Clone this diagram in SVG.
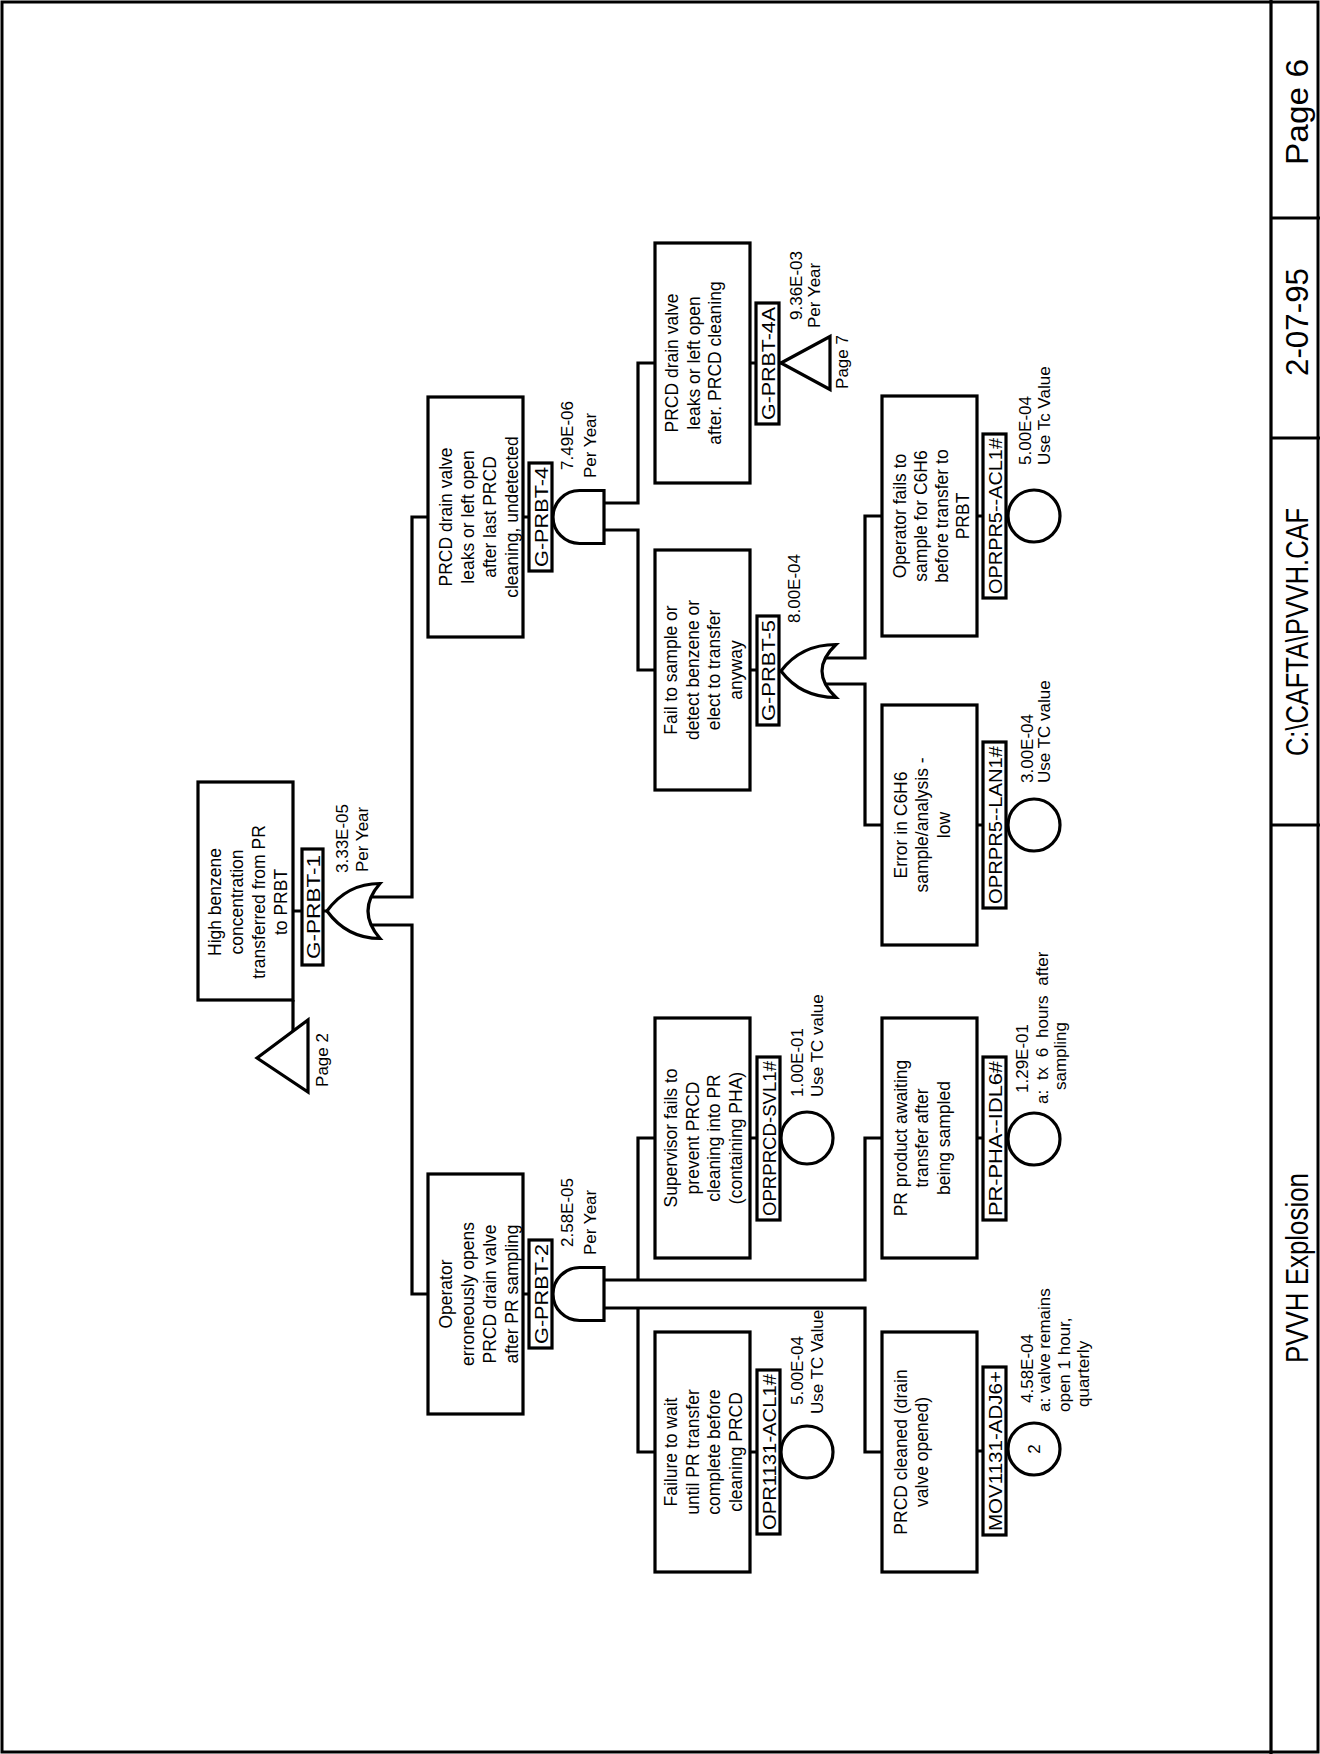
<svg xmlns="http://www.w3.org/2000/svg" width="1320" height="1754" viewBox="0 0 1320 1754">
<style>
.bg{fill:#fff}
.box{fill:#fff;stroke:#000;stroke-width:3.2}
.ln{fill:none;stroke:#000;stroke-width:3.2}
.g{fill:#fff;stroke:#000;stroke-width:3.2;stroke-linejoin:miter}
.t{font-family:"Liberation Sans",Arial,Helvetica,sans-serif;font-size:17px;fill:#000}
.d{font-size:17.5px}
.m{text-anchor:middle}
.lab{font-size:19px}
.ttl{font-size:32px}
</style>
<rect class="bg" x="0" y="0" width="1320" height="1754"/>
<g id="frame">
<rect x="2" y="2" width="1316" height="1750" fill="none" stroke="#000" stroke-width="3"/>
<path class="ln" d="M1271,0 V1754 M1271,218 H1320 M1271,438 H1320 M1271,825 H1320"/>
<text class="t m ttl" transform="translate(1308,112) rotate(-90)" textLength="106" lengthAdjust="spacingAndGlyphs">Page 6</text>
<text class="t m ttl" transform="translate(1308,322) rotate(-90)" textLength="108" lengthAdjust="spacingAndGlyphs">2-07-95</text>
<text class="t m ttl" transform="translate(1308,632) rotate(-90)" textLength="248" lengthAdjust="spacingAndGlyphs">C:\CAFTA\PVVH.CAF</text>
<text class="t m ttl" transform="translate(1308,1268) rotate(-90)" textLength="190" lengthAdjust="spacingAndGlyphs">PVVH  Explosion</text>
</g>
<g id="connectors">
<path class="ln" d="M293,1000 V1031 M293,911 H302 M323,911 H327
M372,897 H412 V517 H428 M372,925 H412 V1294 H428
M523,517 H529 M552,517 H554 M604,503 H638 V363 H655 M604,530 H638 V670 H655
M750,363 H756 M779,363 H781 M750,670 H757 M779,671 H781
M825,658 H865 V516 H882 M825,684 H865 V825 H882
M977,516 H983 M1006,516 H1008 M977,825 H983 M1006,825 H1008
M523,1294 H529 M552,1294 H554
M604,1280 H865 V1138 H882 M604,1308 H865 V1452 H882
M638,1280 V1138 H655 M638,1308 V1452 H655
M750,1138 H757 M780,1138 H781 M750,1452 H757 M780,1452 H781
M977,1138 H983 M1006,1138 H1008 M977,1451 H983 M1006,1451 H1008"/>
</g>
<g id="G-PRBT-1">
<rect class="box" x="198" y="782" width="95" height="218"/>
<text class="t d m" transform="translate(221,902) rotate(-90)">High benzene</text>
<text class="t d m" transform="translate(243,902) rotate(-90)">concentration</text>
<text class="t d m" transform="translate(265,902) rotate(-90)">transferred from PR</text>
<text class="t d m" transform="translate(287,902) rotate(-90)">to PRBT</text>
<rect class="box" x="302" y="849" width="21" height="116"/>
<text class="t m lab" transform="translate(320,907) rotate(-90)" textLength="104" lengthAdjust="spacingAndGlyphs">G-PRBT-1</text>
<path class="g" d="M380,883.5 Q347,883.5 327,911 Q347,938.5 380,938.5 Q356,911 380,883.5 Z"/>
<text class="t" transform="translate(348,873) rotate(-90)">3.33E-05</text>
<text class="t" transform="translate(368,872) rotate(-90)">Per Year</text>
<path class="g" d="M257,1058 L308,1020 L308,1092 Z"/>
<text class="t m" transform="translate(328,1060) rotate(-90)">Page 2</text>
</g>
<g id="G-PRBT-2">
<rect class="box" x="428" y="1174" width="95" height="240"/>
<text class="t d m" transform="translate(452,1294) rotate(-90)">Operator</text>
<text class="t d m" transform="translate(474,1294) rotate(-90)">erroneously opens</text>
<text class="t d m" transform="translate(496,1294) rotate(-90)">PRCD drain valve</text>
<text class="t d m" transform="translate(518,1294) rotate(-90)">after PR sampling</text>
<rect class="box" x="529" y="1240" width="23" height="108"/>
<text class="t m lab" transform="translate(548,1294) rotate(-90)" textLength="100" lengthAdjust="spacingAndGlyphs">G-PRBT-2</text>
<path class="g" d="M604,1267.5 H579.5 A26.5,26.5 0 0 0 579.5,1320.5 H604 Z"/>
<text class="t" transform="translate(573,1247) rotate(-90)">2.58E-05</text>
<text class="t" transform="translate(596,1255) rotate(-90)">Per Year</text>
</g>
<g id="G-PRBT-4">
<rect class="box" x="428" y="397" width="95" height="240"/>
<text class="t d m" transform="translate(452,517) rotate(-90)">PRCD drain valve</text>
<text class="t d m" transform="translate(474,517) rotate(-90)">leaks or left open</text>
<text class="t d m" transform="translate(496,517) rotate(-90)">after last PRCD</text>
<text class="t d m" transform="translate(518,517) rotate(-90)">cleaning, undetected</text>
<rect class="box" x="529" y="463" width="23" height="108"/>
<text class="t m lab" transform="translate(548,517) rotate(-90)" textLength="100" lengthAdjust="spacingAndGlyphs">G-PRBT-4</text>
<path class="g" d="M604,490.5 H579.5 A26.5,26.5 0 0 0 579.5,543.5 H604 Z"/>
<text class="t" transform="translate(573,470) rotate(-90)">7.49E-06</text>
<text class="t" transform="translate(596,478) rotate(-90)">Per Year</text>
</g>
<g id="G-PRBT-4A">
<rect class="box" x="655" y="243" width="95" height="240"/>
<text class="t d m" transform="translate(678,363) rotate(-90)">PRCD drain valve</text>
<text class="t d m" transform="translate(699.5,363) rotate(-90)">leaks or left open</text>
<text class="t d m" transform="translate(721,363) rotate(-90)">after. PRCD cleaning</text>
<rect class="box" x="756" y="303" width="23" height="121"/>
<text class="t m lab" transform="translate(775,363.5) rotate(-90)" textLength="113" lengthAdjust="spacingAndGlyphs">G-PRBT-4A</text>
<path class="g" d="M781,363 L830,336.5 L830,389.5 Z"/>
<text class="t" transform="translate(802,320) rotate(-90)">9.36E-03</text>
<text class="t" transform="translate(820,328) rotate(-90)">Per Year</text>
<text class="t m" transform="translate(848,362) rotate(-90)">Page 7</text>
</g>
<g id="G-PRBT-5">
<rect class="box" x="655" y="550" width="95" height="240"/>
<text class="t d m" transform="translate(677,670) rotate(-90)">Fail to sample or</text>
<text class="t d m" transform="translate(698.5,670) rotate(-90)">detect benzene or</text>
<text class="t d m" transform="translate(720,670) rotate(-90)">elect to transfer</text>
<text class="t d m" transform="translate(741.5,670) rotate(-90)">anyway</text>
<rect class="box" x="757" y="616" width="22" height="109"/>
<text class="t m lab" transform="translate(775,670.5) rotate(-90)" textLength="101" lengthAdjust="spacingAndGlyphs">G-PRBT-5</text>
<path class="g" d="M836,644.5 Q801,644.5 781,671 Q801,697.5 836,697.5 Q808,671 836,644.5 Z"/>
<text class="t" transform="translate(800,623) rotate(-90)">8.00E-04</text>
</g>
<g id="OPRPRCD-SVL1">
<rect class="box" x="655" y="1018" width="95" height="240"/>
<text class="t d m" transform="translate(677,1138) rotate(-90)">Supervisor fails to</text>
<text class="t d m" transform="translate(698.5,1138) rotate(-90)">prevent PRCD</text>
<text class="t d m" transform="translate(720,1138) rotate(-90)">cleaning into PR</text>
<text class="t d m" transform="translate(741.5,1138) rotate(-90)">(containing PHA)</text>
<rect class="box" x="757" y="1057" width="23" height="163"/>
<text class="t m lab" transform="translate(776,1138.5) rotate(-90)" textLength="155" lengthAdjust="spacingAndGlyphs">OPRPRCD-SVL1#</text>
<circle class="g" cx="807" cy="1138" r="26"/>
<text class="t" transform="translate(803,1097) rotate(-90)">1.00E-01</text>
<text class="t" transform="translate(823,1097) rotate(-90)">Use TC value</text>
</g>
<g id="OPR1131-ACL1">
<rect class="box" x="655" y="1332" width="95" height="240"/>
<text class="t d m" transform="translate(677,1452) rotate(-90)">Failure to wait</text>
<text class="t d m" transform="translate(698.5,1452) rotate(-90)">until PR transfer</text>
<text class="t d m" transform="translate(720,1452) rotate(-90)">complete before</text>
<text class="t d m" transform="translate(741.5,1452) rotate(-90)">cleaning PRCD</text>
<rect class="box" x="757" y="1370" width="23" height="164"/>
<text class="t m lab" transform="translate(776,1452) rotate(-90)" textLength="156" lengthAdjust="spacingAndGlyphs">OPR1131-ACL1#</text>
<circle class="g" cx="807" cy="1452" r="26"/>
<text class="t" transform="translate(803,1405) rotate(-90)">5.00E-04</text>
<text class="t" transform="translate(823,1414) rotate(-90)">Use TC Value</text>
</g>
<g id="OPRPR5-ACL1">
<rect class="box" x="882" y="396" width="95" height="240"/>
<text class="t d m" transform="translate(906,516) rotate(-90)">Operator fails to</text>
<text class="t d m" transform="translate(927,516) rotate(-90)">sample for C6H6</text>
<text class="t d m" transform="translate(948,516) rotate(-90)">before transfer to</text>
<text class="t d m" transform="translate(969,516) rotate(-90)">PRBT</text>
<rect class="box" x="983" y="434" width="23" height="164"/>
<text class="t m lab" transform="translate(1002,516) rotate(-90)" textLength="156" lengthAdjust="spacingAndGlyphs">OPRPR5--ACL1#</text>
<circle class="g" cx="1034" cy="516" r="26"/>
<text class="t" transform="translate(1031,465) rotate(-90)">5.00E-04</text>
<text class="t" transform="translate(1050,465) rotate(-90)">Use Tc Value</text>
</g>
<g id="OPRPR5-LAN1">
<rect class="box" x="882" y="705" width="95" height="240"/>
<text class="t d m" transform="translate(906.5,825) rotate(-90)">Error in C6H6</text>
<text class="t d m" transform="translate(928,825) rotate(-90)">sample/analysis -</text>
<text class="t d m" transform="translate(949.5,825) rotate(-90)">low</text>
<rect class="box" x="983" y="742" width="23" height="166"/>
<text class="t m lab" transform="translate(1002,825) rotate(-90)" textLength="158" lengthAdjust="spacingAndGlyphs">OPRPR5--LAN1#</text>
<circle class="g" cx="1034" cy="825" r="26"/>
<text class="t" transform="translate(1033,783) rotate(-90)">3.00E-04</text>
<text class="t" transform="translate(1050,783) rotate(-90)">Use TC value</text>
</g>
<g id="PR-PHA-IDL6">
<rect class="box" x="882" y="1018" width="95" height="240"/>
<text class="t d m" transform="translate(906.5,1138) rotate(-90)">PR product awaiting</text>
<text class="t d m" transform="translate(928,1138) rotate(-90)">transfer after</text>
<text class="t d m" transform="translate(949.5,1138) rotate(-90)">being sampled</text>
<rect class="box" x="983" y="1057" width="23" height="163"/>
<text class="t m lab" transform="translate(1002,1138.5) rotate(-90)" textLength="155" lengthAdjust="spacingAndGlyphs">PR-PHA--IDL6#</text>
<circle class="g" cx="1034" cy="1139" r="26"/>
<text class="t" transform="translate(1028,1093) rotate(-90)">1.29E-01</text>
<text class="t" transform="translate(1048,1104) rotate(-90)" style="word-spacing:5px">a: tx 6 hours after</text>
<text class="t" transform="translate(1066,1090) rotate(-90)">sampling</text>
</g>
<g id="MOV1131-ADJ6">
<rect class="box" x="882" y="1332" width="95" height="240"/>
<text class="t d m" transform="translate(906.5,1452) rotate(-90)">PRCD cleaned (drain</text>
<text class="t d m" transform="translate(928,1452) rotate(-90)">valve opened)</text>
<rect class="box" x="983" y="1367" width="23" height="168"/>
<text class="t m lab" transform="translate(1002,1451) rotate(-90)" textLength="160" lengthAdjust="spacingAndGlyphs">MOV1131-ADJ6+</text>
<circle class="g" cx="1034" cy="1449" r="26"/>
<text class="t m" transform="translate(1040,1449) rotate(-90)">2</text>
<text class="t" transform="translate(1033,1403) rotate(-90)">4.58E-04</text>
<text class="t" transform="translate(1050,1412) rotate(-90)">a: valve remains</text>
<text class="t" transform="translate(1070,1412) rotate(-90)">open 1 hour,</text>
<text class="t" transform="translate(1089,1407) rotate(-90)">quarterly</text>
</g>
</svg>
